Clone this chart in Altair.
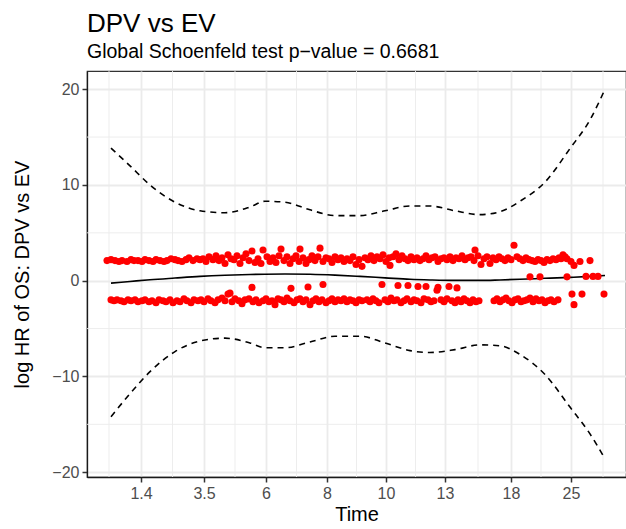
import altair as alt
import pandas as pd

FONT = "Liberation Sans"

# x is the (km-like) transformed time axis, expressed in transformed units
tick_u = [54, 117, 179, 240, 299, 358, 424, 484]
tick_labels = ["1.4", "3.5", "6", "8", "10", "13", "18", "25"]
minor_x = [22, 85.5, 148, 209.5, 269.5, 328.5, 391, 454, 516]
major_y = [-20, -10, 0, 10, 20]
minor_y = [-15, -5, 5, 15]
y_domain = [-20.5, 21.9]

upper_u = [20, 24, 28, 32, 35,
           40, 44, 47, 51, 55, 58, 62, 66, 69, 73, 77, 80, 84, 88, 91, 95, 99, 102, 106, 110, 113,
           116, 119, 122, 126, 129, 132, 135, 138, 141, 144, 147, 150, 153, 156, 159, 162, 165, 168, 171, 174, 176, 180, 183,
           186, 189, 192, 194, 197, 200, 203, 206, 209, 212, 213, 216, 219, 222, 225, 228, 231, 233, 236, 239, 242, 245, 248, 251, 254, 257, 260, 263, 266, 269, 272,
           275, 278, 281, 284, 287, 290, 293, 296, 299, 302, 303, 306, 309, 312, 315, 318, 321, 324, 327, 330, 333, 336, 339, 342, 345, 348, 351, 354, 357,
           360, 363, 366, 369, 372, 375, 378, 381, 384, 387, 388, 391, 394, 397, 400, 403, 406, 409, 412, 415, 418, 421, 424, 427, 430, 433, 436, 439, 442,
           445, 448, 451, 454, 457, 460, 463, 466, 469, 472, 474, 476, 478, 480, 484, 487, 493, 503]
upper_y = [2.1, 2.2, 2.1, 2.0, 2.1,
           2.0, 2.2, 2.1, 2.1, 2.0, 2.2, 2.1, 2.0, 2.2, 2.1, 2.0, 2.1, 2.3, 2.2, 2.1, 2.0, 2.2, 2.4, 2.1, 2.3, 2.2,
           2.3, 2.0, 2.5, 2.2, 2.6, 2.1, 2.4, 1.8, 2.7, 2.3, 2.2, 2.6, 1.8, 2.4, 2.8, 2.1, 3.1, 1.9, 2.3, 1.8, 3.2, 2.5, 2.0,
           2.4, 1.9, 2.6, 3.3, 2.1, 2.5, 1.8, 2.3, 2.6, 2.0, 3.3, 2.4, 1.8, 2.2, 2.6, 2.1, 2.5, 3.4, 2.0, 2.4, 2.3, 1.9, 2.5, 2.2, 2.4, 2.0, 2.3, 2.1, 2.5, 1.7, 2.2,
           1.5, 2.4, 2.2, 2.6, 2.1, 2.5, 2.3, 2.7, 2.0, 2.4, 1.6, 2.5, 2.8, 2.2, 2.6, 2.3, 2.1, 2.5, 2.2, 2.4, 2.1, 2.3, 2.6, 2.2, 2.4, 2.5, 2.0, 2.3, 2.4,
           2.2, 2.5, 2.1, 2.4, 2.3, 2.6, 2.2, 2.4, 2.5, 2.1, 3.2, 2.6, 1.7, 2.3, 2.5, 1.8, 2.4, 2.2, 2.5, 2.3, 2.1, 2.4, 2.2, 3.7, 2.5, 2.3, 2.1, 2.4, 2.2,
           2.1, 2.0, 2.2, 2.1, 1.9, 2.2, 2.1, 2.3, 2.2, 2.4, 2.3, 2.7, 2.5, 2.3, 2.0, 1.6, 2.0, 2.1]

lower_u = [24, 27, 30, 34, 37, 41, 44, 48, 51, 55, 58, 62, 65, 69, 72, 76, 79, 83, 86, 90, 93, 97, 100, 104, 107, 111,
           114, 117, 121, 124, 128, 131, 135, 138, 141, 143, 145, 148, 152, 155, 158, 162, 165, 166, 169, 172, 176, 179, 182,
           185, 188, 191, 194, 197, 200, 203, 204, 207, 210, 213, 216, 219, 221, 223, 226, 229, 232, 235, 236, 239, 242, 245, 248, 251, 254, 257, 260, 263, 266, 269, 272,
           275, 280, 283, 286, 289, 292, 295, 298, 301, 304, 307, 310, 311, 314, 317, 320, 321, 324, 327, 330, 331, 334, 337, 339, 341, 344, 347, 350, 351, 354, 357,
           360, 362, 365, 368, 370, 371, 374, 377, 380, 383, 386, 389, 392, 407, 410, 413, 416, 419, 422, 425, 428, 431, 434, 437, 440, 443, 446, 449, 452, 455, 458, 461, 464, 467, 471,
           485, 487, 495, 517]
lower_y = [-2.0, -2.1, -2.0, -2.1, -2.2, -2.0, -2.1, -2.0, -2.2, -2.1, -2.0, -2.2, -2.1, -2.3, -2.0, -2.1, -2.2, -2.0, -2.3, -2.1, -2.2, -1.9, -2.1, -2.3, -2.0, -2.1,
           -2.0, -2.2, -1.9, -2.1, -2.3, -2.0, -1.8, -2.1, -1.4, -1.3, -2.2, -1.9, -2.1, -2.4, -2.0, -1.9, -0.7, -2.2, -2.0, -2.3, -2.1, -1.9, -2.2,
           -2.1, -2.5, -1.9, -2.0, -2.2, -1.8, -2.1, -0.8, -2.3, -2.0, -1.9, -2.2, -2.0, -0.65, -2.5, -2.1, -1.9, -2.2, -2.0, -0.4, -2.3, -2.1, -1.9, -2.2, -2.0, -2.1, -1.9, -2.2, -2.0, -2.1, -2.3, -2.0,
           -2.1, -2.0, -2.2, -1.9, -2.1, -2.3, -0.4, -2.0, -2.2, -1.8, -2.1, -2.0, -0.5, -2.3, -2.1, -1.9, -0.5, -2.2, -2.0, -2.1, -0.6, -2.3, -1.9, -0.6, -2.0, -2.2, -2.1, -1.0, -0.7, -2.0, -2.2,
           -1.9, -0.6, -2.1, -2.3, -0.75, -2.0, -2.2, -1.9, -2.1, -2.3, -2.0, -2.2, -2.1, -2.1, -1.9, -2.2, -2.0, -1.8, -2.1, -2.3, -2.0, -1.9, -2.2, -2.1, -2.0, -1.8, -2.2, -1.9, -2.1, -2.0, -2.3, -2.1, -2.0, -2.2, -2.0,
           -1.4, -2.5, -1.4, -1.4]

mid_u = [443, 453, 480, 499, 506, 511]
mid_y = [0.4, 0.4, 0.4, 0.45, 0.45, 0.45]

curve_u = [24, 43, 63, 88, 113, 138, 163, 178, 198, 223, 248, 273, 298, 323, 343, 368, 393, 413, 433, 458, 483, 503, 518]
fit_y = [-0.25, -0.08, 0.1, 0.28, 0.45, 0.57, 0.65, 0.68, 0.7, 0.67, 0.58, 0.45, 0.3, 0.15, 0.08, 0.03, 0.03, 0.08, 0.15, 0.25, 0.35, 0.45, 0.55]
upper_ci = [13.85, 12.0, 10.0, 8.2, 7.3, 7.1, 7.7, 8.3, 8.2, 7.4, 6.8, 6.8, 7.3, 7.8, 7.8, 7.3, 6.9, 7.2, 8.3, 10.3, 13.8, 16.8, 20.0]
lower_ci = [-14.2, -11.8, -9.5, -7.4, -6.3, -6.0, -6.5, -7.0, -7.0, -6.4, -5.8, -5.8, -6.5, -7.3, -7.5, -7.2, -6.7, -6.8, -7.7, -9.8, -13.2, -16.0, -18.6]

points = pd.DataFrame({
    "u": upper_u + lower_u + mid_u,
    "resid": upper_y + lower_y + mid_y,
})
curves = pd.DataFrame({"u": curve_u, "fit": fit_y, "hi": upper_ci, "lo": lower_ci})

xs = alt.Scale(domain=[0, 539], nice=False, zero=False)
ys = alt.Scale(domain=y_domain, nice=False, zero=False)

label_expr = " : ".join(
    f"datum.value == {v} ? '{l}'" for v, l in zip(tick_u, tick_labels)
) + " : ''"

GRID = "#EBEBEB"

yaxis = alt.Axis(
    values=major_y, grid=True, gridColor=GRID, gridWidth=1.8, tickSize=5,
    tickColor="#333333", tickWidth=1.5, domainColor="#1a1a1a", domainWidth=1.3,
    labelFont=FONT, labelFontSize=16, labelColor="#4D4D4D", labelPadding=3,
    title="log HR of OS: DPV vs EV", titleFont=FONT, titleFontSize=20,
    titleFontWeight="normal", titleColor="black", titlePadding=19)

xaxis_bottom = alt.Axis(
    orient="bottom", values=tick_u, labelExpr=label_expr, grid=True,
    gridColor=GRID, gridWidth=1.8, tickSize=5, tickColor="#333333",
    tickWidth=1.5, domainColor="#1a1a1a", domainWidth=1.3,
    labelFont=FONT, labelFontSize=16, labelColor="#4D4D4D", labelPadding=3,
    title="Time", titleFont=FONT, titleFontSize=20, titleFontWeight="normal",
    titleColor="black", titlePadding=3)

minor_x_layer = alt.Chart(pd.DataFrame({"u": minor_x})).mark_rule(
    color=GRID, strokeWidth=0.9
).encode(x=alt.X("u:Q", scale=xs, axis=xaxis_bottom))

minor_y_layer = alt.Chart(pd.DataFrame({"resid": minor_y})).mark_rule(
    color=GRID, strokeWidth=0.9
).encode(y=alt.Y("resid:Q", scale=ys, axis=yaxis))

fit_layer = alt.Chart(curves).mark_line(
    color="black", strokeWidth=1.6, interpolate="monotone"
).encode(
    x=alt.X("u:Q", scale=xs, axis=xaxis_bottom),
    y=alt.Y("fit:Q", scale=ys, axis=yaxis),
)

pts_layer = alt.Chart(points).mark_circle(color="#FF0000", size=50, opacity=1).encode(
    x=alt.X("u:Q", scale=xs, axis=xaxis_bottom),
    y=alt.Y("resid:Q", scale=ys, axis=yaxis),
)

hi_layer = alt.Chart(curves).mark_line(
    color="black", strokeWidth=1.6, strokeDash=[6, 5], interpolate="monotone"
).encode(x=alt.X("u:Q", scale=xs, axis=xaxis_bottom), y=alt.Y("hi:Q", scale=ys, axis=yaxis))

lo_layer = alt.Chart(curves).mark_line(
    color="black", strokeWidth=1.6, strokeDash=[6, 5], interpolate="monotone"
).encode(x=alt.X("u:Q", scale=xs, axis=xaxis_bottom), y=alt.Y("lo:Q", scale=ys, axis=yaxis))

chart = alt.layer(
    minor_x_layer, minor_y_layer, fit_layer, pts_layer, hi_layer, lo_layer
).properties(
    width=539,
    height=406,
    autosize=alt.AutoSizeParams(type="none"),
    padding={"left": 87, "top": 71, "right": 0, "bottom": 52},
    background="white",
    title=alt.TitleParams(
        text="DPV vs EV",
        subtitle="Global Schoenfeld test p\u2212value = 0.6681",
        anchor="start", frame="group", font=FONT, fontSize=26, fontWeight="normal",
        color="black", subtitleFont=FONT, subtitleFontSize=19.5, subtitleColor="black",
        offset=9, subtitlePadding=6,
    ),
).configure_view(stroke="#333333", strokeWidth=1.2)

chart.save("out.html", embed_options={"renderer": "svg", "actions": False})
